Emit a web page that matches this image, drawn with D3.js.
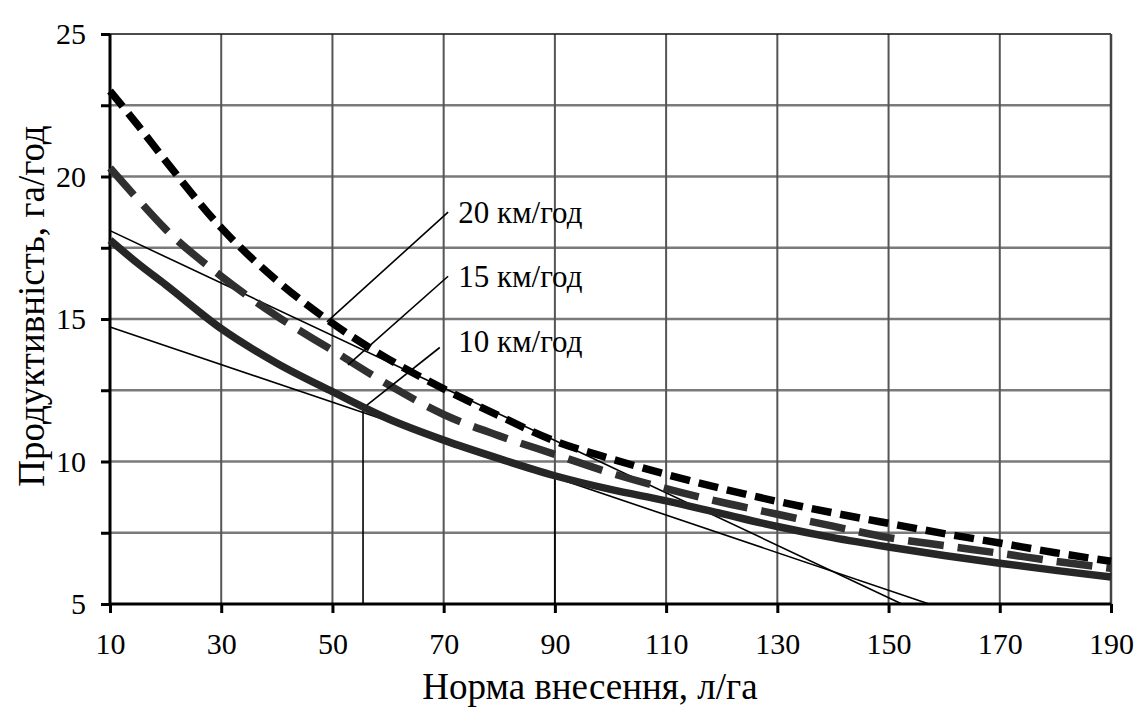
<!DOCTYPE html>
<html>
<head>
<meta charset="utf-8">
<script src="https://cdn.jsdelivr.net/npm/d3@7"></script>
<style>
  html, body { margin: 0; padding: 0; background: #fff; }
  svg { display: block; }
</style>
</head>
<body>
<svg id="chart" width="1146" height="711"></svg>
<script>
// ---- data ----
const rates = [10, 15, 20, 30, 40, 50, 60, 70, 80, 90, 100, 110, 120, 130, 140, 150, 160, 170, 180, 190];
const speed20 = [23.0, 21.8, 20.55, 18.2, 16.35, 14.85, 13.6, 12.55, 11.6, 10.72, 10.1, 9.55, 9.05, 8.6, 8.2, 7.83, 7.47, 7.14, 6.8, 6.5];
const speed15 = [20.3, 19.2, 18.15, 16.5, 15.1, 13.9, 12.7, 11.65, 10.9, 10.25, 9.6, 9.05, 8.57, 8.15, 7.73, 7.33, 7.05, 6.78, 6.5, 6.25];
const speed10 = [17.77, 16.95, 16.2, 14.66, 13.45, 12.45, 11.5, 10.75, 10.1, 9.5, 9.02, 8.62, 8.17, 7.72, 7.33, 7.0, 6.7, 6.43, 6.18, 5.95];
const seriesLabels = ["20 км/год", "15 км/год", "10 км/год"];
const xTicks = [10, 30, 50, 70, 90, 110, 130, 150, 170, 190];
const xTickLabels = ["10", "30", "50", "70", "90", "110", "130", "150", "170", "190"];
const yTicks = [5, 7.5, 10, 12.5, 15, 17.5, 20, 22.5, 25];
const yTickLabels = ["5", "", "10", "", "15", "", "20", "", "25"];
const xTitle = "Норма внесення, л/га";
const yTitle = "Продуктивність, га/год";
// tangent construction lines [x1, y1, x2, y2] in data units
const tangent1 = [10, 18.1, 152.4, 5];
const tangent2 = [10, 14.72, 157.3, 5];
// vertical drop lines [x, yTop]
const drops = [[55.5, 11.9], [90, 9.5]];
// label anchor points (text x, baseline y) and leader lines [x1,y1,x2,y2] in data units
const labelPos = [[72.6, 18.37], [72.6, 16.12], [72.6, 13.84]];
const leaders = [[49.0, 14.9, 70.8, 18.75], [52.8, 13.39, 70.8, 16.5], [56.2, 11.98, 69.3, 14.0]];

// ---- layout ----
const FONT = "Liberation Serif";
const svg = d3.select("#chart");
const mLeft = 110, mRight = 1111, mTop = 34, mBottom = 604;
const x = d3.scaleLinear().domain([10, 190]).range([mLeft, mRight]);
const y = d3.scaleLinear().domain([5, 25]).range([mBottom, mTop]);

// grid
const g = svg.append("g");
g.selectAll("line.hgrid").data(yTicks.slice(1, -1)).enter().append("line")
  .attr("x1", mLeft).attr("x2", mRight)
  .attr("y1", d => y(d)).attr("y2", d => y(d))
  .attr("stroke", "#7a7a7a").attr("stroke-width", 2.5);
g.selectAll("line.vgrid").data(xTicks.slice(1, -1)).enter().append("line")
  .attr("x1", d => x(d)).attr("x2", d => x(d))
  .attr("y1", mTop).attr("y2", mBottom)
  .attr("stroke", "#555").attr("stroke-width", 2);
// top and right border
svg.append("line").attr("x1", mLeft).attr("x2", mRight).attr("y1", mTop).attr("y2", mTop)
  .attr("stroke", "#111").attr("stroke-width", 1.5);
svg.append("line").attr("x1", mRight).attr("x2", mRight).attr("y1", mTop).attr("y2", mBottom)
  .attr("stroke", "#444").attr("stroke-width", 2.5);

// axes
const xAxis = d3.axisBottom(x).tickValues(xTicks).tickSize(9).tickFormat((d, i) => xTickLabels[i]);
const yAxis = d3.axisLeft(y).tickValues(yTicks).tickSize(9).tickFormat((d, i) => yTickLabels[i]);
const gx = svg.append("g").attr("transform", `translate(0,${mBottom})`).call(xAxis);
const gy = svg.append("g").attr("transform", `translate(${mLeft},0)`).call(yAxis);
[gx, gy].forEach(a => {
  a.attr("font-family", FONT).attr("font-size", 30);
  a.select(".domain").attr("stroke", "#000").attr("stroke-width", 3);
  a.selectAll(".tick line").attr("stroke", "#000").attr("stroke-width", 3);
  a.selectAll(".tick text").attr("font-family", FONT).attr("font-size", 30).attr("fill", "#000");
});
gx.select(".domain").attr("d", `M${mLeft},0H${mRight}`);
gy.select(".domain").attr("d", `M0,${mBottom}V${mTop}`);
gx.selectAll(".tick text").attr("y", 29);
gy.selectAll(".tick text").attr("x", -24);

// construction lines
[tangent1, tangent2].forEach(t => {
  svg.append("line").attr("x1", x(t[0])).attr("y1", y(t[1])).attr("x2", x(t[2])).attr("y2", y(t[3]))
    .attr("stroke", "#000").attr("stroke-width", 1.6);
});
drops.forEach(d => {
  svg.append("line").attr("x1", x(d[0])).attr("x2", x(d[0])).attr("y1", y(5)).attr("y2", y(d[1]))
    .attr("stroke", "#000").attr("stroke-width", 1.6);
});

// curves
const line = d3.line().x((d, i) => x(rates[i])).y(d => y(d)).curve(d3.curveMonotoneX);
svg.append("path").attr("d", line(speed10)).attr("fill", "none")
  .attr("stroke", "#262626").attr("stroke-width", 7.5);
svg.append("path").attr("d", line(speed15)).attr("fill", "none")
  .attr("stroke", "#303030").attr("stroke-width", 7.5).attr("stroke-dasharray", "36,14");
svg.append("path").attr("d", line(speed20)).attr("fill", "none")
  .attr("stroke", "#000").attr("stroke-width", 7.5).attr("stroke-dasharray", "20,9");

// labels & leaders
leaders.forEach(l => {
  svg.append("line").attr("x1", x(l[0])).attr("y1", y(l[1])).attr("x2", x(l[2])).attr("y2", y(l[3]))
    .attr("stroke", "#000").attr("stroke-width", 1.6);
});
labelPos.forEach((p, i) => {
  svg.append("text").attr("x", x(p[0])).attr("y", y(p[1]))
    .attr("font-family", FONT).attr("font-size", 31).attr("fill", "#000").text(seriesLabels[i]);
});

// titles
svg.append("text").attr("x", 590).attr("y", 699).attr("text-anchor", "middle")
  .attr("font-family", FONT).attr("font-size", 37).attr("fill", "#000").text(xTitle);
svg.append("text").attr("transform", "translate(44,306) rotate(-90)").attr("text-anchor", "middle")
  .attr("font-family", FONT).attr("font-size", 37).attr("fill", "#000").text(yTitle);
</script>
</body>
</html>
